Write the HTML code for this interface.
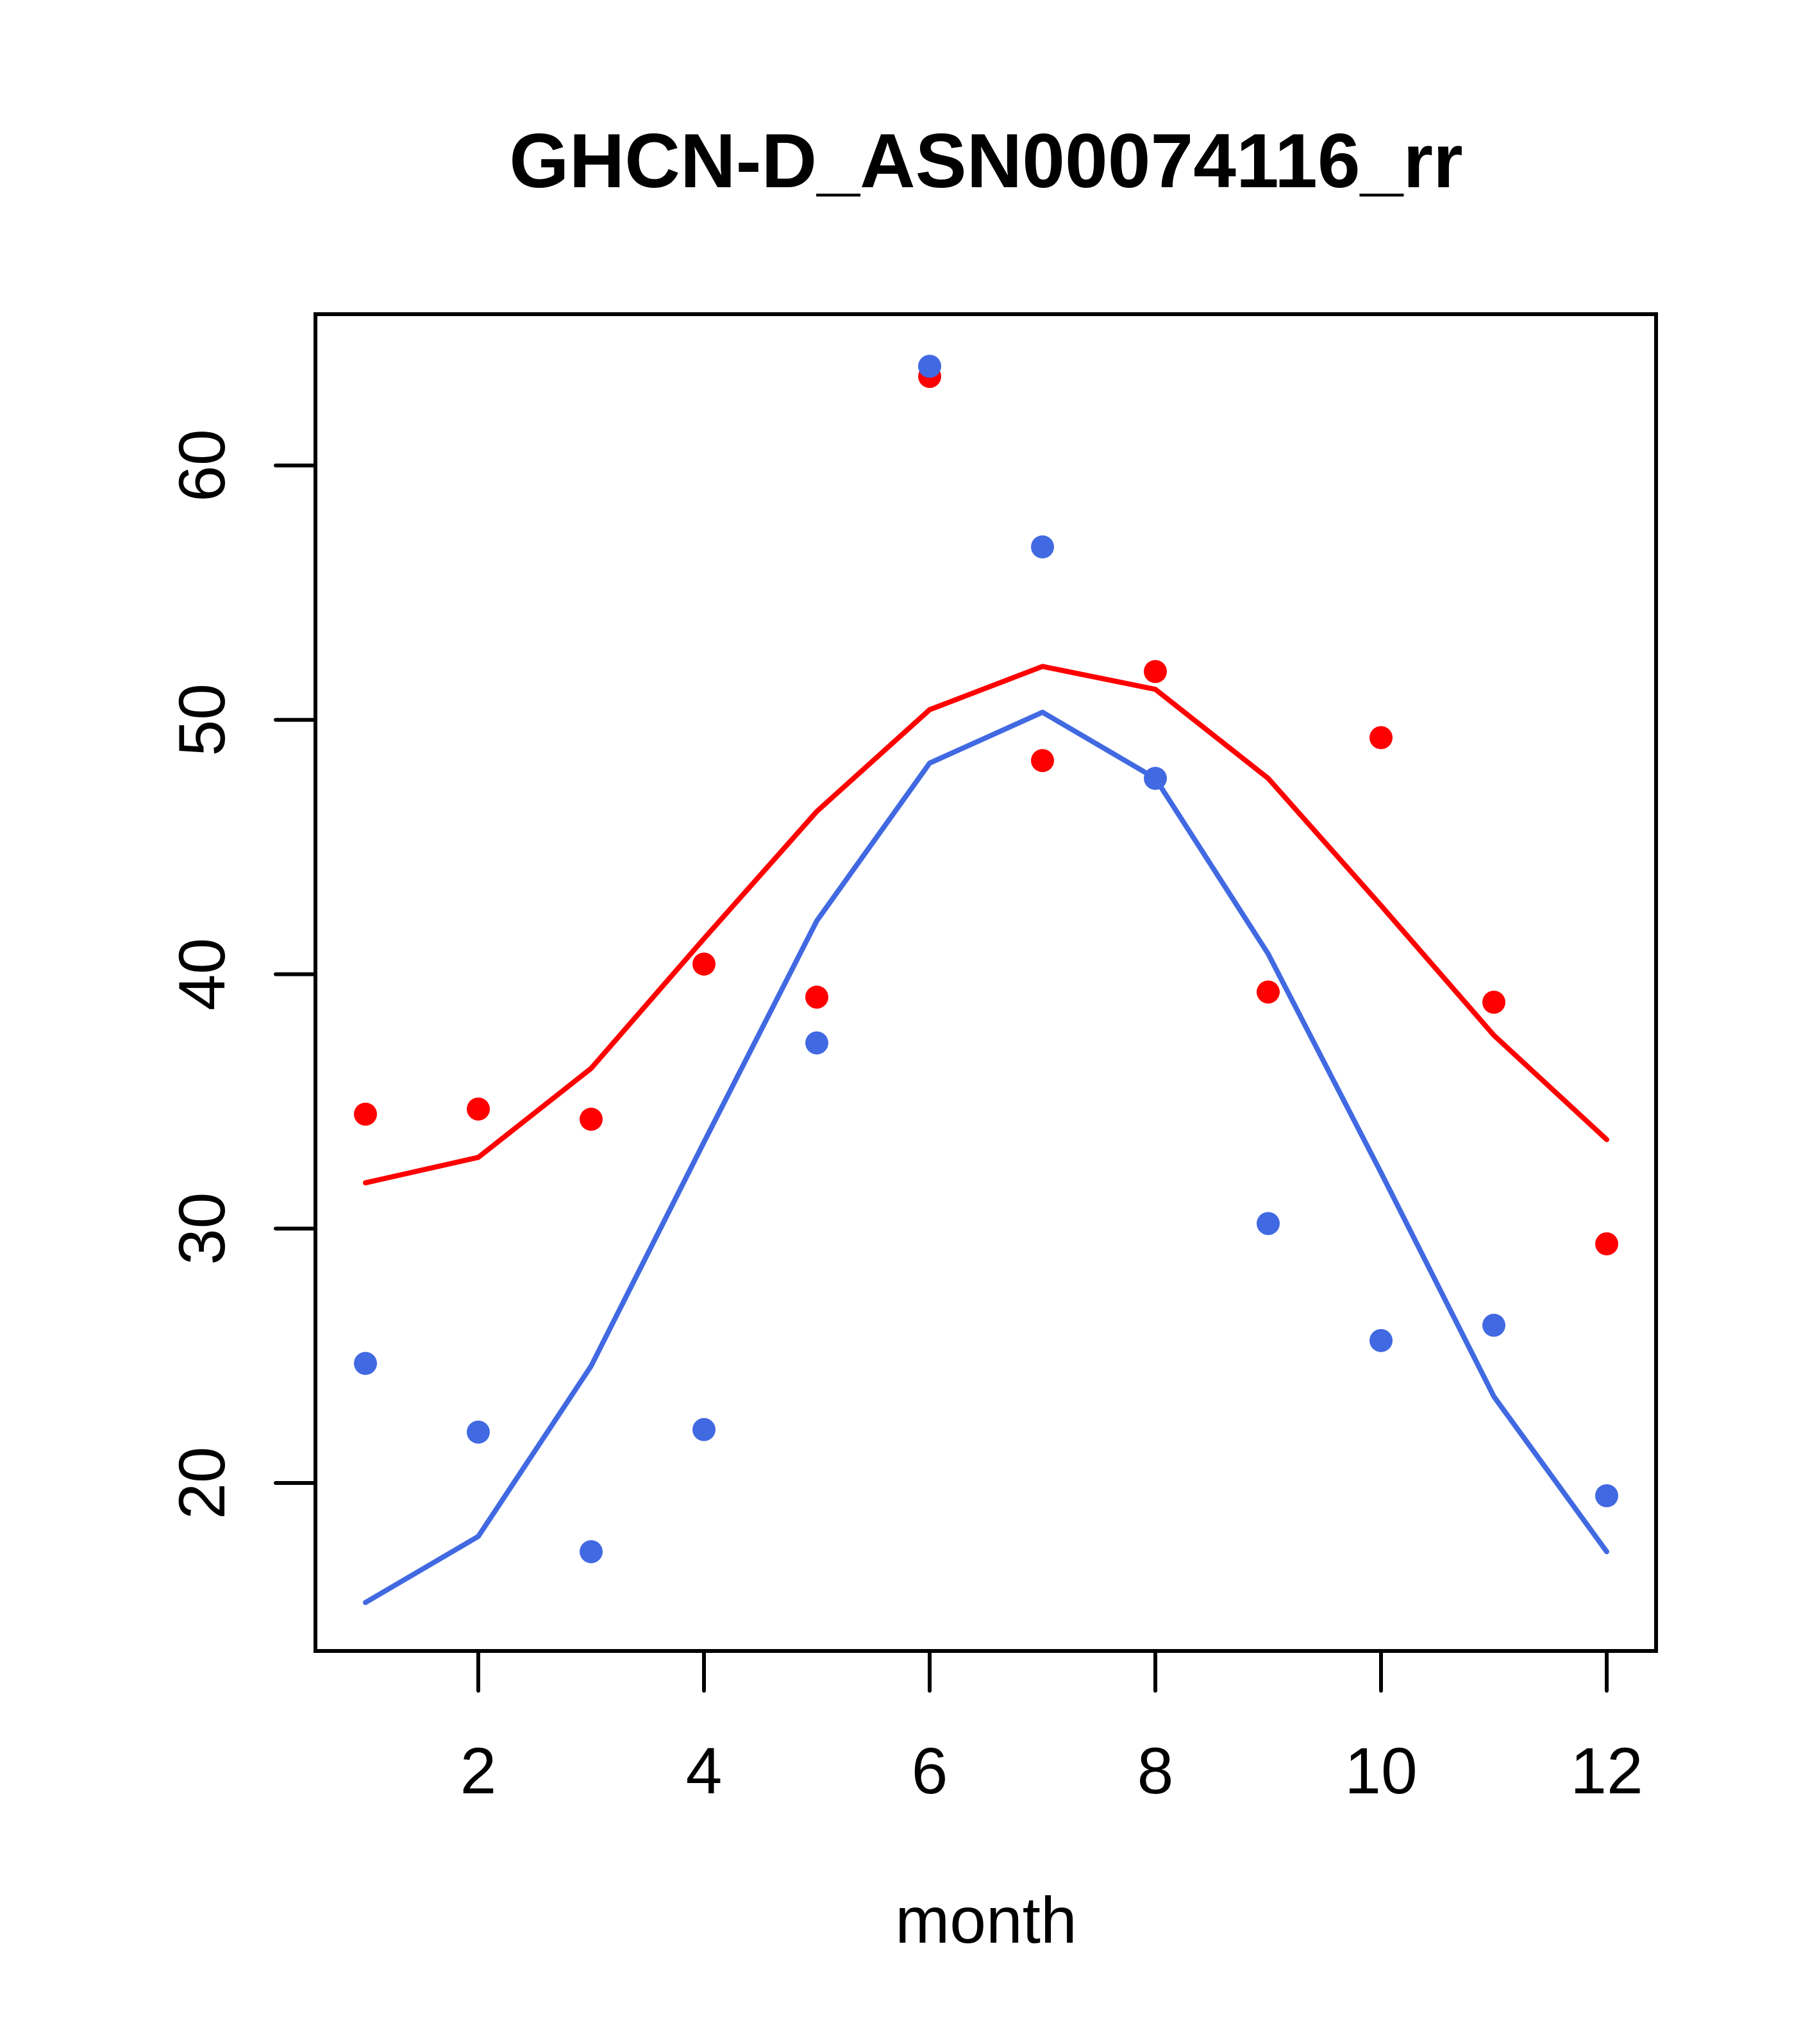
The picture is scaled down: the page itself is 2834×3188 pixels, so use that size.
<!DOCTYPE html>
<html><head><meta charset="utf-8"><style>body{margin:0;background:#fff}svg{display:block}text{font-family:"Liberation Sans",sans-serif}</style></head>
<body>
<svg id="chart" width="2834" height="3188" viewBox="0 0 2834 3188" xmlns="http://www.w3.org/2000/svg">
<rect width="2834" height="3188" fill="#fff"/>
<text x="1538" y="292" font-size="120" font-weight="bold" text-anchor="middle">GHCN-D_ASN00074116_rr</text>
<g id="plot"></g>
<text x="1538" y="3030" font-size="102" text-anchor="middle">month</text>
</svg>
<script>
const months=[1,2,3,4,5,6,7,8,9,10,11,12];
const redPoints=[34.5,34.7,34.3,40.4,39.1,63.5,48.4,51.9,39.3,49.3,38.9,29.4];
const bluePoints=[24.7,22.0,17.3,22.1,37.3,63.9,56.8,47.7,30.2,25.6,26.2,19.5];
const redLine=[31.8,32.8,36.3,41.4,46.4,50.4,52.1,51.2,47.7,42.7,37.6,33.5];
const blueLine=[15.3,17.9,24.6,33.4,42.1,48.3,50.3,47.7,40.8,32.2,23.4,17.3];
const xTicks=[2,4,6,8,10,12];
const yTicks=[20,30,40,50,60];
const NS='http://www.w3.org/2000/svg';
const g=document.getElementById('plot');
const L=492,R=2583,T=490,B=2575;
function X(m){return 746+(m-2)*(2506-746)/10;}
function Y(v){return 726+(60-v)*(2313-726)/40;}
function mk(t,a){const e=document.createElementNS(NS,t);for(const k in a)e.setAttribute(k,a[k]);g.appendChild(e);return e;}
let e=mk('rect',{x:L,y:T,width:R-L,height:B-T,fill:'none',stroke:'#000','stroke-width':6});


xTicks.forEach(t=>{
 let l=mk('line',{x1:X(t),x2:X(t),y1:B,y2:B+62,stroke:'#000','stroke-width':6,'stroke-linecap':'round'});
 
 
 let tx=mk('text',{x:X(t),y:2797,'font-size':102,'text-anchor':'middle'});tx.textContent=t;
 
 
});
yTicks.forEach(t=>{
 let l=mk('line',{x1:L-62,x2:L,y1:Y(t),y2:Y(t),stroke:'#000','stroke-width':6,'stroke-linecap':'round'});
 
 
 let tx=mk('text',{x:0,y:0,'font-size':102,'text-anchor':'middle',transform:`translate(350,${Y(t)}) rotate(-90)`});tx.textContent=t;
 
 
});
function line(vals,col,name){
 let p=mk('polyline',{points:vals.map((v,i)=>X(months[i])+','+Y(v)).join(' '),fill:'none',stroke:col,'stroke-width':8,'stroke-linecap':'round','stroke-linejoin':'round'});
 
 
}
function pts(vals,col,name){
 vals.forEach((v,i)=>{
  let c=mk('circle',{cx:X(months[i]),cy:Y(v),r:18,fill:col});
  
  
 });
}
line(redLine,'#ff0000','red-line');
line(blueLine,'#4169e1','blue-line');
pts(redPoints,'#ff0000','red-point');
pts(bluePoints,'#4169e1','blue-point');
</script>
</body></html>
